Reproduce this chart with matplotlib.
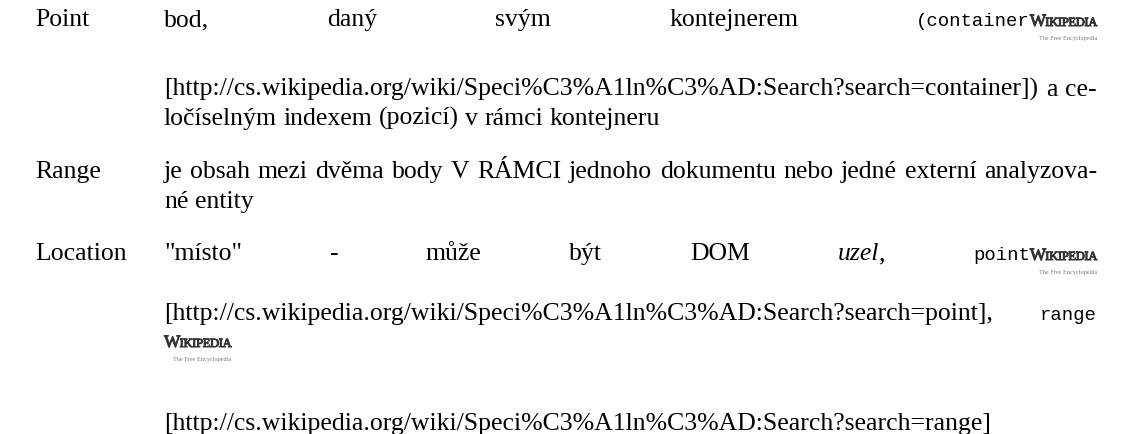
import matplotlib
matplotlib.use("Agg")
import matplotlib.pyplot as plt
import matplotlib.patheffects as pe

W_PX, H_PX, DPI = 1130, 434, 100

# ---------------- content ----------------
terms = ["Point", "Range", "Location"]
term_baselines = [26, 178, 260]

URL_BASE = "[http://cs.wikipedia.org/wiki/Speci%C3%A1ln%C3%AD:Search?search="
LOGO_MAIN = ("W", "IKIPEDIA")
LOGO_TAG = "The Free Encyclopedia"

# rows: (baseline_px, justified, words); word = list of (text, style)
rows = [
    (26, True, [[("bod,", "serif")], [("daný", "serif")], [("svým", "serif")],
                [("kontejnerem", "serif")], [("(container", "mono"), ("", "logo")]]),
    (96, True, [[(URL_BASE + "container])", "serif")], [("a", "serif")], [("ce-", "serif")]]),
    (125, False, [[(w, "serif")] for w in "ločíselným indexem (pozicí) v rámci kontejneru".split()]),
    (178, True, [[(w, "serif")] for w in
                 "je obsah mezi dvěma body V RÁMCI jednoho dokumentu nebo jedné externí analyzova-".split()]),
    (208, False, [[(w, "serif")] for w in "né entity".split()]),
    (260, True, [[("\"místo\"", "serif")], [("-", "serif")], [("může", "serif")], [("být", "serif")],
                 [("DOM", "serif")], [("uzel", "italic"), (",", "serif")],
                 [("point", "mono"), ("", "logo")]]),
    (320, True, [[(URL_BASE + "point],", "serif")], [("range", "mono")]]),
    (347, False, [[("", "logo")]]),
    (430, False, [[(URL_BASE + "range]", "serif")]]),
]

X_TERM = 35
X_LEFT, X_RIGHT = 164, 1097
MAIN_PT = 18.5
STY = {
    "serif": dict(family="Liberation Serif", size=MAIN_PT),
    "italic": dict(family="Liberation Serif", size=MAIN_PT, style="italic"),
    "mono": dict(family="Liberation Mono", size=13.6),
    "logoW": dict(family="Liberation Serif", size=12.5),
    "logoR": dict(family="Liberation Serif", size=9.0),
}
LOGO_SQUEEZE = 0.96
LOGO_COLOR = "#333333"
TAG_COLOR = "#7a7a7a"

fig = plt.figure(figsize=(W_PX / DPI, H_PX / DPI), dpi=DPI)
fig.patch.set_facecolor("white")
ax = fig.add_axes([0, 0, 1, 1])
ax.set_xlim(0, W_PX)
ax.set_ylim(H_PX, 0)
ax.axis("off")
renderer = fig.canvas.get_renderer()


def raw_w(txt, style):
    t = ax.text(0, 0, txt, va="baseline", **STY[style])
    w = t.get_window_extent(renderer).width
    t.remove()
    return w


W_W = raw_w(LOGO_MAIN[0], "logoW") * 0.95
LETTER_W = [raw_w(c, "logoR") * LOGO_SQUEEZE for c in LOGO_MAIN[1]]
LOGO_W = W_W + sum(LETTER_W)


def text_w(txt, style):
    if style == "logo":
        return LOGO_W
    return raw_w(txt, style)


bold = [pe.withStroke(linewidth=0.7, foreground=LOGO_COLOR)]


def draw_logo(x, y):
    ax.text(x, y, LOGO_MAIN[0], color=LOGO_COLOR, va="baseline", ha="left",
            path_effects=bold, **STY["logoW"])
    xx = x + W_W
    for c, cw in zip(LOGO_MAIN[1], LETTER_W):
        ax.text(xx, y, c, color=LOGO_COLOR, va="baseline", ha="left",
                path_effects=bold, **STY["logoR"])
        xx += cw
    ax.text(x + LOGO_W, y + 14, LOGO_TAG, family="Liberation Serif",
            size=4.5, color=TAG_COLOR, va="baseline", ha="right")


def draw_seg(x, y, txt, style):
    if style == "logo":
        draw_logo(x, y)
    else:
        ax.text(x, y, txt, va="baseline", ha="left", color="black", **STY[style])


for term, yb in zip(terms, term_baselines):
    ax.text(X_TERM, yb, term, va="baseline", ha="left", **STY["serif"])

space_w = raw_w("a b", "serif") - raw_w("ab", "serif")
for yb, just, words in rows:
    widths = [[text_w(t, s) for t, s in w] for w in words]
    totals = [sum(ws) for ws in widths]
    if just and len(words) > 1:
        gap = (X_RIGHT - X_LEFT - sum(totals)) / (len(words) - 1)
    else:
        gap = space_w
    x = X_LEFT
    for w, ws, tot in zip(words, widths, totals):
        xx = x
        for (t, s), sw in zip(w, ws):
            draw_seg(xx, yb, t, s)
            xx += sw
        x += tot + gap

fig.savefig("out.png", dpi=DPI, facecolor="white")
